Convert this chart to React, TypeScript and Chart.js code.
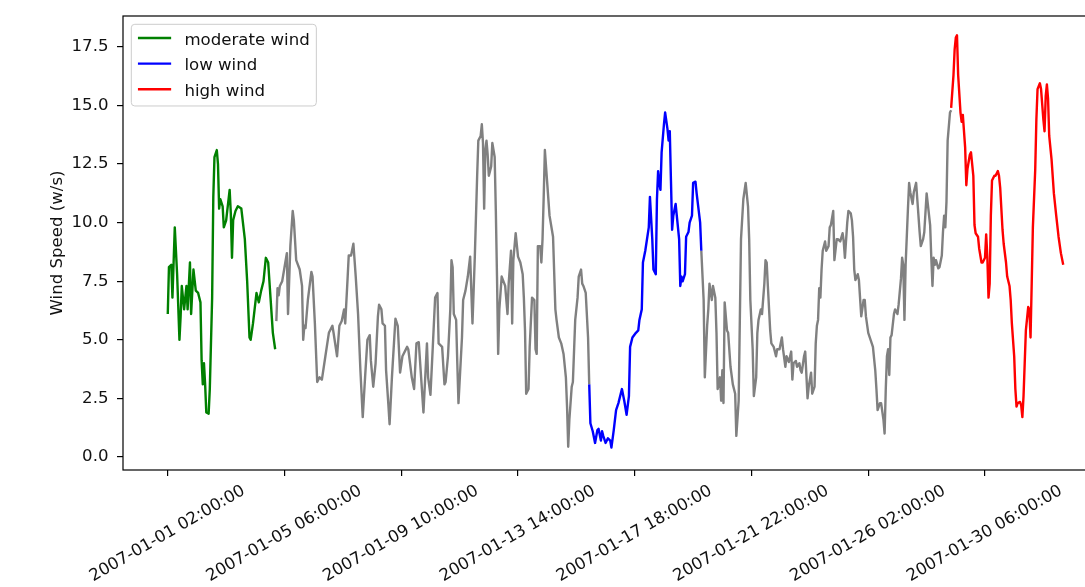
import React, { useEffect, useRef } from 'react';
import { Chart, registerables } from 'chart.js';

Chart.register(...registerables);

// Hours counted from 2007-01-01 02:00:00
const START_UTC = Date.UTC(2007, 0, 1, 2, 0, 0);

const moderateHours = [0, 1, 3, 4, 6, 8, 10, 11, 12, 14, 16, 17, 19, 20, 22, 24, 26, 28, 29, 30, 31, 32, 33, 35, 36, 38, 39, 40, 42, 43, 44, 45, 47, 48, 50, 53, 54, 55, 56, 58, 60, 63, 66, 68, 70, 71, 73, 76, 78, 80, 82, 84, 86, 88, 90, 92];
const moderateWind = [6.1, 8.1, 8.2, 6.8, 9.8, 7.8, 5.0, 6.0, 7.3, 6.3, 7.3, 6.3, 8.3, 6.1, 8.0, 7.1, 7.0, 6.6, 4.1, 3.1, 4.0, 3.1, 1.9, 1.85, 2.9, 6.8, 11.1, 12.8, 13.1, 12.5, 10.6, 11.0, 10.7, 9.8, 10.1, 11.4, 10.4, 8.5, 10.1, 10.5, 10.7, 10.6, 9.3, 7.5, 5.1, 5.0, 5.7, 7.0, 6.6, 7.1, 7.5, 8.5, 8.3, 6.8, 5.3, 4.6];

const grayHoursA = [93, 94, 95, 96, 98, 100, 102, 103, 105, 107, 108, 110, 113, 115, 116, 117, 118, 120, 123, 124, 126, 128, 130, 132, 135, 138, 141, 142, 145, 147, 149, 151, 152, 154, 155, 157, 159, 161, 163, 165, 167, 169, 171, 173, 174, 176, 178, 180, 181, 183, 184, 186, 187, 189, 190, 192, 195, 197, 199, 201, 205, 206, 209, 211, 213, 215, 217, 219, 222, 223, 225, 227, 229, 231, 232, 235, 237, 238, 240, 242, 243, 244, 245, 247, 248, 249, 252, 253, 255, 257, 259, 260, 261, 263, 265, 266, 268, 269, 270, 271, 272, 273, 274, 275, 276, 277, 278, 280, 281, 282, 283, 284, 286, 289, 291, 292, 294, 295, 296, 298, 300, 302, 304, 305, 306, 307, 309, 310, 312, 314, 315, 316, 317, 319, 320, 321, 322, 323, 325, 327, 329, 330, 332, 333, 335, 337, 339, 341, 342, 343, 344, 346, 347, 349, 351, 352, 354, 355, 356, 358, 360, 361];
const grayWindA = [5.8, 7.2, 6.9, 7.3, 7.5, 8.1, 8.7, 6.1, 9.0, 10.5, 10.1, 8.4, 8.0, 7.3, 5.0, 5.6, 5.5, 6.7, 7.9, 7.7, 5.7, 3.2, 3.4, 3.3, 4.3, 5.3, 5.6, 5.3, 4.3, 5.6, 5.8, 6.3, 5.7, 7.6, 8.6, 8.6, 9.1, 7.7, 6.1, 3.7, 1.7, 3.4, 5.0, 5.2, 4.1, 3.0, 4.0, 6.0, 6.5, 6.3, 5.7, 5.6, 3.7, 2.2, 1.4, 3.4, 5.9, 5.6, 3.6, 4.3, 4.7, 4.6, 3.4, 2.9, 4.85, 4.9, 3.4, 1.9, 4.85, 3.4, 2.65, 4.7, 6.8, 7.0, 4.85, 4.7, 3.1, 3.2, 4.3, 6.3, 8.4, 8.1, 6.1, 5.85, 4.0, 2.3, 5.1, 6.7, 7.1, 7.7, 8.55, 7.1, 5.7, 8.55, 12.0, 13.5, 13.7, 14.2, 13.4, 10.6, 13.1, 13.5, 12.9, 12.0, 12.2, 12.4, 13.4, 12.8, 10.5, 7.7, 4.4, 6.3, 7.7, 7.3, 6.1, 7.4, 8.8, 5.7, 8.4, 9.55, 8.55, 8.3, 7.8, 6.8, 5.4, 2.7, 2.9, 4.7, 6.8, 6.7, 4.6, 4.4, 9.0, 9.0, 8.3, 9.3, 11.1, 13.1, 11.7, 10.3, 9.7, 9.4, 6.3, 5.85, 5.1, 4.85, 4.4, 3.4, 2.15, 0.44, 1.6, 3.0, 3.2, 5.85, 6.8, 7.7, 8.0, 7.4, 7.3, 7.0, 5.1, 3.1];

const lowHours = [361, 362, 364, 366, 368, 369, 371, 372, 373, 375, 377, 379, 380, 382, 384, 386, 389, 391, 393, 395, 396, 398, 401, 403, 404, 406, 407, 409, 412, 413, 415, 416, 418, 419, 420, 421, 422, 423, 425, 426, 428, 429, 430, 431, 432, 433, 435, 436, 438, 439, 440, 441, 443, 444, 446, 447, 449, 450, 452, 453, 456, 457];
const lowWind = [3.1, 1.44, 1.1, 0.6, 1.15, 1.2, 0.7, 1.1, 0.9, 0.6, 0.8, 0.7, 0.4, 1.15, 2.0, 2.3, 2.9, 2.4, 1.8, 2.6, 4.7, 5.1, 5.3, 5.4, 5.85, 6.3, 8.3, 8.8, 9.8, 11.1, 9.3, 8.0, 7.8, 11.0, 12.2, 11.7, 11.4, 13.0, 14.2, 14.7, 14.0, 13.5, 13.9, 11.8, 9.7, 10.3, 10.8, 10.3, 9.3, 7.3, 7.7, 7.5, 7.8, 9.4, 9.6, 10.0, 10.3, 11.7, 11.75, 11.25, 10.0, 8.8];

const grayHoursB = [457, 459, 460, 462, 463, 464, 466, 467, 469, 470, 471, 473, 474, 475, 476, 477, 479, 480, 482, 484, 486, 487, 489, 490, 491, 493, 495, 497, 498, 499, 501, 502, 504, 505, 506, 508, 509, 511, 512, 513, 514, 516, 517, 519, 521, 522, 524, 526, 527, 529, 530, 532, 534, 535, 536, 538, 539, 541, 542, 543, 545, 546, 548, 549, 551, 552, 554, 555, 556, 557, 558, 559, 560, 561, 563, 564, 566, 567, 568, 570, 571, 573, 574, 576, 578, 579, 580, 582, 583, 585, 586, 587, 588, 589, 591, 592, 594, 596, 597, 598, 600, 602, 604, 606, 607, 608, 610, 611, 613, 614, 615, 616, 617, 618, 619, 620, 622, 623, 625, 626, 628, 629, 630, 631, 632, 634, 635, 636, 638, 639, 641, 642, 644, 645, 647, 648, 650, 651, 653, 654, 655, 656, 657, 658, 660, 661, 663, 664, 665, 666, 667, 668, 670, 671];
const grayWindB = [8.8, 6.7, 3.4, 5.6, 6.3, 7.4, 6.7, 7.3, 6.8, 5.3, 2.9, 3.4, 2.4, 3.7, 2.3, 6.6, 5.4, 5.3, 3.85, 3.1, 2.7, 0.9, 2.4, 5.85, 9.3, 11.0, 11.7, 10.7, 9.3, 6.7, 4.6, 2.6, 3.4, 5.3, 5.85, 6.3, 6.1, 7.4, 8.4, 8.3, 7.3, 5.4, 4.85, 4.7, 4.3, 4.6, 4.6, 5.1, 4.6, 3.85, 4.3, 4.05, 4.5, 3.3, 4.0, 4.1, 3.85, 4.0, 3.7, 3.6, 4.3, 4.5, 2.5, 3.0, 3.6, 2.7, 3.0, 4.85, 5.6, 5.85, 7.2, 6.8, 8.0, 8.8, 9.2, 8.8, 9.0, 9.8, 9.9, 10.5, 8.4, 9.3, 9.3, 9.2, 9.55, 9.2, 8.5, 10.0, 10.5, 10.4, 10.1, 9.4, 8.0, 7.55, 7.8, 7.55, 6.0, 6.7, 6.7, 6.0, 5.3, 5.0, 4.7, 3.7, 2.9, 2.0, 2.3, 2.3, 1.6, 1.0, 2.9, 4.3, 4.6, 3.5, 5.1, 5.2, 6.1, 6.3, 6.1, 6.5, 7.6, 8.5, 8.2, 5.85, 8.2, 10.6, 11.7, 11.3, 10.8, 11.3, 11.7, 11.0, 9.6, 9.0, 9.3, 9.6, 11.25, 10.8, 9.9, 8.5, 7.3, 8.5, 8.2, 8.4, 8.05, 8.1, 8.6, 9.6, 10.3, 9.8, 10.9, 13.5, 14.7, 14.8];

const highHours = [671, 673, 674, 675, 676, 677, 679, 680, 681, 683, 684, 685, 687, 688, 690, 691, 692, 694, 695, 697, 698, 700, 701, 702, 703, 704, 705, 706, 708, 709, 711, 712, 713, 715, 716, 718, 719, 721, 722, 723, 725, 726, 727, 728, 730, 731, 732, 733, 734, 735, 737, 738, 739, 740, 741, 743, 744, 745, 747, 748, 750, 751, 752, 753, 754, 755, 757, 759, 761, 763, 765, 767];
const highWind = [14.9, 16.3, 17.4, 17.9, 18.0, 16.3, 14.7, 14.3, 14.6, 13.2, 11.6, 12.3, 12.9, 13.0, 12.0, 9.9, 9.55, 9.4, 8.9, 8.3, 8.3, 8.5, 9.5, 8.55, 6.8, 7.4, 10.3, 11.8, 12.0, 12.0, 12.2, 12.0, 11.5, 9.7, 9.1, 8.3, 7.7, 7.3, 6.7, 5.7, 4.3, 2.9, 2.15, 2.3, 2.35, 2.2, 1.7, 2.6, 4.0, 5.4, 6.4, 6.3, 5.1, 7.4, 9.8, 12.25, 14.4, 15.7, 15.95, 15.7, 14.4, 13.9, 15.4, 15.9, 15.3, 13.7, 12.7, 11.25, 10.3, 9.4, 8.7, 8.2];

const xTickHours = [0, 100, 200, 300, 400, 500, 600, 700];
const yTickValues = [0, 2.5, 5, 7.5, 10, 12.5, 15, 17.5];

const FONT_FAMILY = '"DejaVu Sans", sans-serif';
const FONT_SIZE = 16.6;
const LINE_WIDTH = 2.4;

const pad2 = (n: number) => String(n).padStart(2, '0');
function formatHour(h: number): string {
  const d = new Date(START_UTC + h * 3600000);
  return `${d.getUTCFullYear()}-${pad2(d.getUTCMonth() + 1)}-${pad2(d.getUTCDate())} ${pad2(d.getUTCHours())}:${pad2(d.getUTCMinutes())}:${pad2(d.getUTCSeconds())}`;
}

const toPoints = (hours: number[], vals: number[]) => hours.map((h, i) => ({ x: h, y: vals[i] }));

const framePlugin = {
  id: 'frame',
  afterDatasetsDraw(chart: any) {
    const { ctx, chartArea } = chart;
    ctx.save();
    ctx.strokeStyle = '#000';
    ctx.lineWidth = 1.2;
    ctx.strokeRect(chartArea.left, chartArea.top, chartArea.right - chartArea.left, chartArea.bottom - chartArea.top);
    ctx.restore();
  },
};

const boxLegendPlugin = {
  id: 'boxLegend',
  afterDraw(chart: any) {
    const { ctx, chartArea } = chart;
    const items = chart.data.datasets.filter((d: any) => d.label);
    const fs = FONT_SIZE;
    const pad = 0.4 * fs;
    const handleLen = 2 * fs;
    const textPad = 0.8 * fs;
    const axPad = 0.5 * fs;
    const rowH = 1.04 * fs;
    const spacing = 0.5 * fs;
    ctx.save();
    ctx.font = `${fs}px ${FONT_FAMILY}`;
    const maxW = Math.max(...items.map((d: any) => ctx.measureText(d.label).width));
    const x0 = chartArea.left + axPad;
    const y0 = chartArea.top + axPad;
    const w = pad + handleLen + textPad + maxW + pad;
    const h = 2 * pad + items.length * rowH + (items.length - 1) * spacing;
    ctx.beginPath();
    if (ctx.roundRect) ctx.roundRect(x0, y0, w, h, 3.5);
    else ctx.rect(x0, y0, w, h);
    ctx.fillStyle = 'rgba(255,255,255,0.8)';
    ctx.fill();
    ctx.strokeStyle = '#cccccc';
    ctx.lineWidth = 1;
    ctx.stroke();
    items.forEach((d: any, i: number) => {
      const cy = y0 + pad + rowH / 2 - 1.5 + i * (rowH + spacing);
      ctx.beginPath();
      ctx.moveTo(x0 + pad, cy);
      ctx.lineTo(x0 + pad + handleLen, cy);
      ctx.strokeStyle = d.borderColor;
      ctx.lineWidth = LINE_WIDTH;
      ctx.stroke();
      ctx.fillStyle = '#111';
      ctx.textBaseline = 'alphabetic';
      ctx.textAlign = 'left';
      ctx.fillText(d.label, x0 + pad + handleLen + textPad, cy + 6.5);
    });
    ctx.restore();
  },
};

export default function App() {
  const ref = useRef<HTMLCanvasElement | null>(null);
  useEffect(() => {
    if (!ref.current) return;
    const font = { family: FONT_FAMILY, size: FONT_SIZE };
    const lineDs = (label: string, data: any[], color: string) => ({
      label,
      data,
      borderColor: color,
      backgroundColor: color,
      borderWidth: LINE_WIDTH,
      pointRadius: 0,
      tension: 0,
      fill: false,
      borderJoinStyle: 'round' as const,
    });
    const chart = new Chart(ref.current, {
      type: 'line',
      data: {
        datasets: [
          lineDs('moderate wind', toPoints(moderateHours, moderateWind), '#008000'),
          lineDs('low wind', toPoints(lowHours, lowWind), '#0000ff'),
          lineDs('high wind', toPoints(highHours, highWind), '#ff0000'),
          lineDs('', toPoints(grayHoursA, grayWindA), '#808080'),
          lineDs('', toPoints(grayHoursB, grayWindB), '#808080'),
        ],
      },
      options: {
        responsive: false,
        animation: false,
        devicePixelRatio: 1,
        layout: { padding: { top: 16, left: 0, right: 0, bottom: 0 } },
        plugins: { legend: { display: false }, tooltip: { enabled: false } },
        scales: {
          x: {
            type: 'linear',
            min: -38.35,
            max: 805.35,
            afterBuildTicks: (s: any) => {
              s.ticks = xTickHours.map((v) => ({ value: v }));
            },
            afterFit: (s: any) => {
              s.height = 117;
              s.paddingLeft = 0;
              s.paddingRight = 0;
            },
            border: { display: false },
            grid: { drawOnChartArea: false, drawTicks: true, tickLength: 6, color: '#000', lineWidth: 1.2 },
            ticks: {
              autoSkip: false,
              minRotation: 30,
              maxRotation: 30,
              labelOffset: 76,
              padding: 5,
              color: '#111',
              font,
              callback: (v: any) => formatHour(Number(v)),
            },
          },
          y: {
            type: 'linear',
            min: -0.555,
            max: 18.82,
            afterBuildTicks: (s: any) => {
              s.ticks = yTickValues.map((v) => ({ value: v }));
            },
            afterFit: (s: any) => {
              s.width = 123;
              s.paddingTop = 0;
              s.paddingBottom = 0;
            },
            border: { display: false },
            grid: { drawOnChartArea: false, drawTicks: true, tickLength: 6, color: '#000', lineWidth: 1.2 },
            ticks: {
              padding: 8.5,
              color: '#111',
              font,
              callback: (v: any) => Number(v).toFixed(1),
            },
            title: {
              display: true,
              text: 'Wind Speed (w/s)',
              color: '#111',
              font,
              padding: { top: 47.5, bottom: 0 },
            },
          },
        },
      },
      plugins: [framePlugin, boxLegendPlugin],
    });
    return () => chart.destroy();
  }, []);

  return (
    <div style={{ position: 'fixed', left: 0, top: 0, width: 1085, height: 587, overflow: 'hidden', background: '#fff' }}>
      <canvas ref={ref} width={1108} height={587} style={{ width: 1108, height: 587, display: 'block' }} />
    </div>
  );
}
